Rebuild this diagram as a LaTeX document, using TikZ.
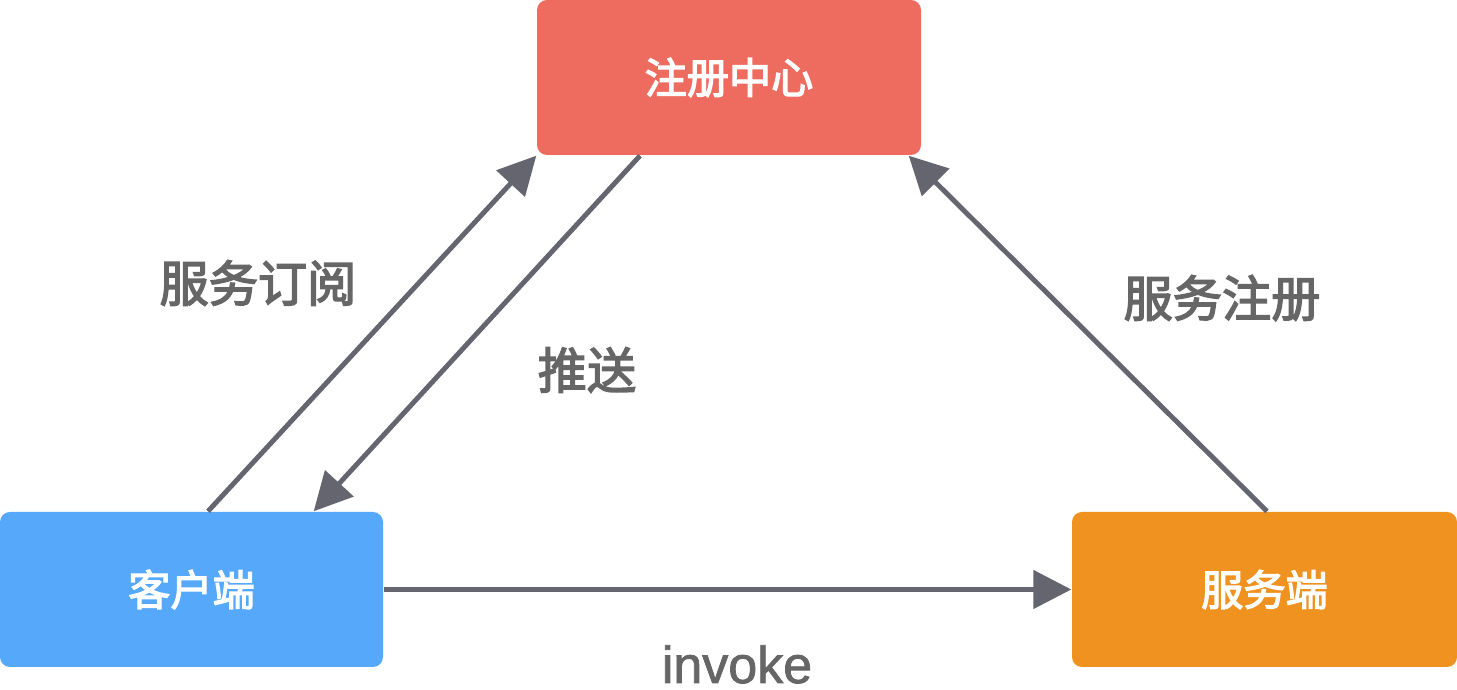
\documentclass[tikz,border=0pt]{standalone}
\usepackage{fontspec}
\setmainfont{Liberation Sans}
\newfontfamily\cjk[FakeBold=3]{Noto Sans CJK SC}
\newfontfamily\latinm[FakeBold=1.5]{Liberation Sans}
\usetikzlibrary{arrows.meta}
\definecolor{regred}{HTML}{EE6C5F}
\definecolor{cliblue}{HTML}{55A8FA}
\definecolor{srvorange}{HTML}{F0921F}
\definecolor{arrowgray}{HTML}{65656F}
\definecolor{labelgray}{HTML}{666666}
\tikzset{
  box/.style={rounded corners=0.1cm, minimum width=3.84cm, minimum height=1.55cm, inner sep=0pt, text=white, font=\cjk\fontsize{12pt}{14pt}\selectfont},
  conn/.style={draw=arrowgray, line width=1.4pt, -{Triangle[length=0.38cm,width=0.38cm]}},
  lbl/.style={text=labelgray, font=\cjk\fontsize{14pt}{16pt}\selectfont, inner sep=0pt}
}
\begin{document}
\begin{tikzpicture}
\useasboundingbox (0,0) rectangle (14.57,6.90);
\node[box, fill=regred] (reg) at (7.29,6.125) {注册中心};
\node[box, fill=cliblue, minimum width=3.83cm] (cli) at (1.915,1.005) {客户端};
\node[box, fill=srvorange, minimum width=3.85cm] (srv) at (12.645,1.005) {服务端};
\draw[conn] ([xshift=0.165cm]cli.north) -- (reg.south west);
\draw[conn] ([xshift=-0.89cm]reg.south) -- ([xshift=-0.70cm]cli.north east);
\draw[conn] ([xshift=0.025cm]srv.north) -- ([xshift=-0.13cm]reg.south east);
\draw[conn] (cli.east) -- (srv.west);
\node[lbl] (sub) at (2.58,4.07) {服务订阅};
\node[lbl] (push) at (5.87,3.20) {推送};
\node[lbl] (regl) at (12.22,3.92) {服务注册};
\node[text=labelgray, font=\latinm\fontsize{14.8pt}{16pt}\selectfont, inner sep=0pt, anchor=base] (inv) at (7.37,0.07) {invoke};
\end{tikzpicture}
\end{document}
